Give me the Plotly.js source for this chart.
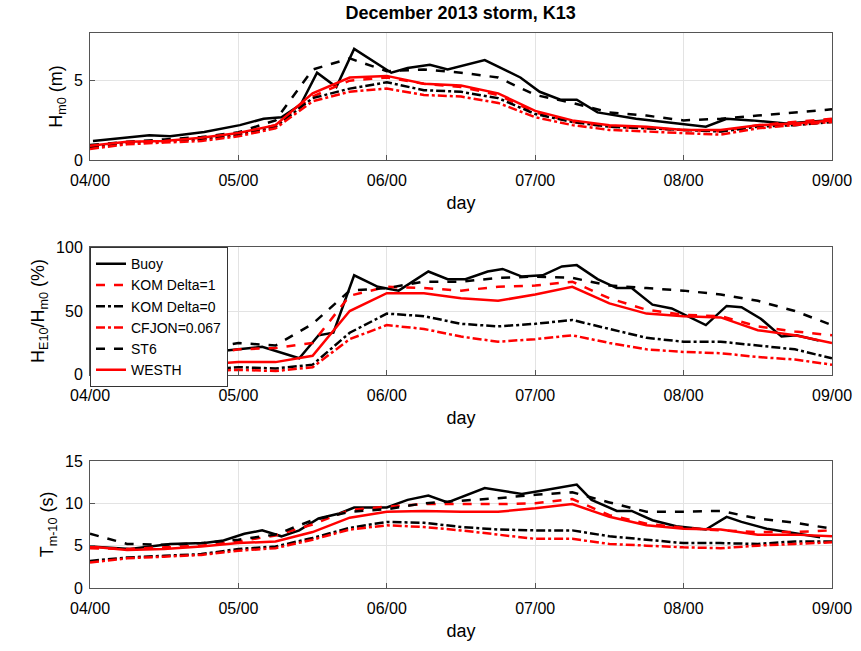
<!DOCTYPE html>
<html>
<head>
<meta charset="utf-8">
<script src="https://cdn.plot.ly/plotly-3.0.1.min.js"></script>
<style>body{margin:0;background:#fff}#graph{width:861px;height:651px}</style>
</head>
<body>
<div id="graph"></div>
<script>
// model output every 6 h, days of December 2013
var modelDays = [4,4.25,4.5,4.75,5,5.25,5.5,5.75,6,6.25,6.5,6.75,7,7.25,7.5,7.75,8,8.25,8.5,8.75,9];

// Hm0 (m)
var hmBuoyDays = [4.02,4.4,4.54,4.77,5.01,5.17,5.29,5.42,5.53,5.66,5.78,6.03,6.14,6.29,6.41,6.66,6.9,7.03,7.17,7.28,7.42,7.68,8.15,8.29,8.46,8.69,8.96];
var hmBuoy = [1.2,1.56,1.5,1.77,2.2,2.6,2.7,3.5,5.5,4.6,7.0,5.5,5.8,6.0,5.7,6.3,5.2,4.3,3.8,3.8,3.0,2.6,2.1,2.6,2.5,2.3,2.5];
var hmKom1 = [0.8,1.1,1.2,1.35,1.7,2.2,4.0,5.0,5.2,4.8,4.6,4.1,3.0,2.4,2.1,2.0,1.9,1.8,2.2,2.4,2.6];
var hmKom0 = [0.8,1.1,1.2,1.3,1.6,2.1,3.9,4.5,4.9,4.4,4.3,3.9,2.9,2.4,2.1,2.0,1.9,1.8,2.1,2.2,2.4];
var hmCfjon = [0.7,1.0,1.1,1.2,1.5,2.0,3.7,4.3,4.5,4.1,4.0,3.6,2.7,2.2,1.9,1.8,1.7,1.6,2.0,2.2,2.4];
var hmSt6 = [0.95,1.15,1.3,1.45,1.75,2.5,5.7,6.4,5.6,5.7,5.5,5.2,4.1,3.6,3.0,2.8,2.5,2.6,2.8,3.0,3.2];
var hmWesth = [0.9,1.15,1.2,1.4,1.7,2.2,4.2,5.2,5.3,4.8,4.7,4.2,3.1,2.5,2.2,2.1,1.9,1.9,2.2,2.3,2.5];

// HE10/Hm0 (%)
var heBuoyDays = [4.0,4.5,5.0,5.16,5.41,5.54,5.64,5.78,5.94,6.08,6.28,6.41,6.53,6.68,6.78,6.91,7.05,7.18,7.28,7.42,7.55,7.65,7.79,7.92,8.15,8.29,8.39,8.52,8.66,8.76,8.91];
var heBuoy = [10,14,20,22,13,31,33,78,69,66,81,75,75,81,83,77,78,85,86,75,68,68,55,52,39,54,53,44,30,31,27];
var heKom1 = [5,7,10,15,20,21,25,62,69,68,66,69,70,73,60,51,47,46,38,34,31];
var heKom0 = [2,2,3,4,6,5,8,33,48,46,40,38,40,43,36,29,26,26,23,20,13];
var heCfjon = [1,1,2,3,4,3,6,28,39,36,30,26,28,31,25,20,18,17,14,12,8];
var heSt6 = [10,12,15,20,25,23,40,66,68,73,73,76,77,76,70,68,66,63,58,50,39];
var heWesth = [3,4,6,8,10,10,15,50,64,64,60,58,63,69,56,48,46,45,35,31,25];

// Tm-10 (s)
var tmBuoyDays = [4.0,4.27,4.54,4.77,4.9,5.04,5.16,5.29,5.41,5.54,5.68,5.78,6.0,6.14,6.28,6.41,6.66,6.91,7.08,7.28,7.38,7.55,7.65,7.79,7.95,8.15,8.29,8.39,8.56,8.76,8.92];
var tmBuoy = [4.9,4.6,5.2,5.3,5.6,6.4,6.8,6.1,6.8,8.2,8.8,9.5,9.5,10.4,10.9,10.1,11.8,11.1,11.6,12.2,10.4,9.1,9.1,8.0,7.3,6.9,8.4,7.8,7.0,6.4,6.0];
var tmKom1 = [4.7,4.6,4.8,5.0,5.5,6.2,7.5,9.2,9.6,9.9,9.9,9.9,10.0,10.5,8.6,7.6,7.1,6.8,6.6,6.6,6.8];
var tmKom0 = [3.2,3.6,3.8,4.0,4.6,4.9,5.9,7.1,7.8,7.7,7.2,6.9,6.8,6.8,6.1,5.7,5.3,5.3,5.2,5.5,5.5];
var tmCfjon = [3.0,3.5,3.7,3.9,4.4,4.7,5.7,6.9,7.4,7.2,6.8,6.3,5.8,5.8,5.2,5.0,4.8,4.7,5.0,5.2,5.4];
var tmSt6 = [6.4,5.2,5.1,5.3,5.7,6.3,8.0,9.0,9.3,10.0,10.3,10.6,11.0,11.3,10.1,9.0,9.0,9.1,8.2,7.7,7.0];
var tmWesth = [4.9,4.5,4.6,4.9,5.3,5.5,6.6,8.3,9.0,9.1,9.0,9.0,9.4,9.9,8.4,7.4,7.0,6.9,6.3,6.3,6.1];

var dayTicks = [4,5,6,7,8,9];
var dayLabels = ['04/00','05/00','06/00','07/00','08/00','09/00'];

var styles = [
    {name: 'Buoy', color: 'black', dash: 'solid'},
    {name: 'KOM Delta=1', color: 'red', dash: 'dash'},
    {name: 'KOM Delta=0', color: 'black', dash: 'dashdot'},
    {name: 'CFJON=0.067', color: 'red', dash: 'dashdot'},
    {name: 'ST6', color: 'black', dash: 'dash'},
    {name: 'WESTH', color: 'red', dash: 'solid'}
];

function panel(buoyDays, series, axisNo, showLegend) {
    var out = [];
    series.forEach(function (ys, i) {
        var s = styles[i];
        out.push({
            x: i === 0 ? buoyDays : modelDays,
            y: ys,
            type: 'scatter',
            mode: 'lines',
            name: s.name,
            showlegend: showLegend,
            xaxis: 'x' + (axisNo === 1 ? '' : axisNo),
            yaxis: 'y' + (axisNo === 1 ? '' : axisNo),
            line: {color: s.color, dash: s.dash, width: 2.5}
        });
    });
    return out;
}

var traces = [].concat(
    panel(hmBuoyDays, [hmBuoy, hmKom1, hmKom0, hmCfjon, hmSt6, hmWesth], 1, false),
    panel(heBuoyDays, [heBuoy, heKom1, heKom0, heCfjon, heSt6, heWesth], 2, true),
    panel(tmBuoyDays, [tmBuoy, tmKom1, tmKom0, tmCfjon, tmSt6, tmWesth], 3, false)
);

var font = {family: 'Liberation Sans, Arial, sans-serif', size: 16, color: 'black'};

function xAxis(anchor) {
    return {
        anchor: anchor, domain: [0, 1], range: [4, 9], tickvals: dayTicks, ticktext: dayLabels,
        showgrid: true, gridcolor: '#e3e3e3', zeroline: false,
        showline: true, mirror: true, linecolor: '#555', linewidth: 1,
        ticks: 'inside', ticklen: 5, tickcolor: '#555', ticklabelstandoff: 6,
        title: {text: 'day', font: {size: 18}, standoff: 8}
    };
}
function yAxis(anchor, domain, range, ticks, title) {
    return {
        anchor: anchor, domain: domain, range: range, tickvals: ticks,
        showgrid: true, gridcolor: '#e3e3e3', zeroline: false,
        showline: true, mirror: true, linecolor: '#555', linewidth: 1,
        ticks: 'inside', ticklen: 5, tickcolor: '#555', ticklabelstandoff: 3,
        title: {text: title, font: {size: 18}, standoff: 6}
    };
}

var layout = {
    width: 861, height: 651,
    margin: {l: 90, r: 29, t: 33, b: 63},
    paper_bgcolor: 'white', plot_bgcolor: 'white',
    font: font,
    title: {text: '<b>December 2013 storm, K13</b>', font: {size: 18}, x: 0.535, xanchor: 'center', y: 0.99, yanchor: 'top'},
    xaxis: xAxis('y'), xaxis2: xAxis('y2'), xaxis3: xAxis('y3'),
    yaxis: yAxis('x', [0.771, 1], [0, 8], [0, 5], 'H<sub>m0</sub> (m)'),
    yaxis2: yAxis('x2', [0.384, 0.614], [0, 100], [0, 50, 100], 'H<sub>E10</sub>/H<sub>m0</sub> (%)'),
    yaxis3: yAxis('x3', [0, 0.229], [0, 15], [0, 5, 10, 15], 'T<sub>m-10</sub> (s)'),
    showlegend: true,
    legend: {
        x: 0, y: 0.614, xanchor: 'left', yanchor: 'top',
        bgcolor: 'white', bordercolor: '#333', borderwidth: 1,
        font: {size: 14}, tracegroupgap: 0
    }
};

Plotly.newPlot('graph', traces, layout, {displayModeBar: false});
</script>
</body>
</html>
